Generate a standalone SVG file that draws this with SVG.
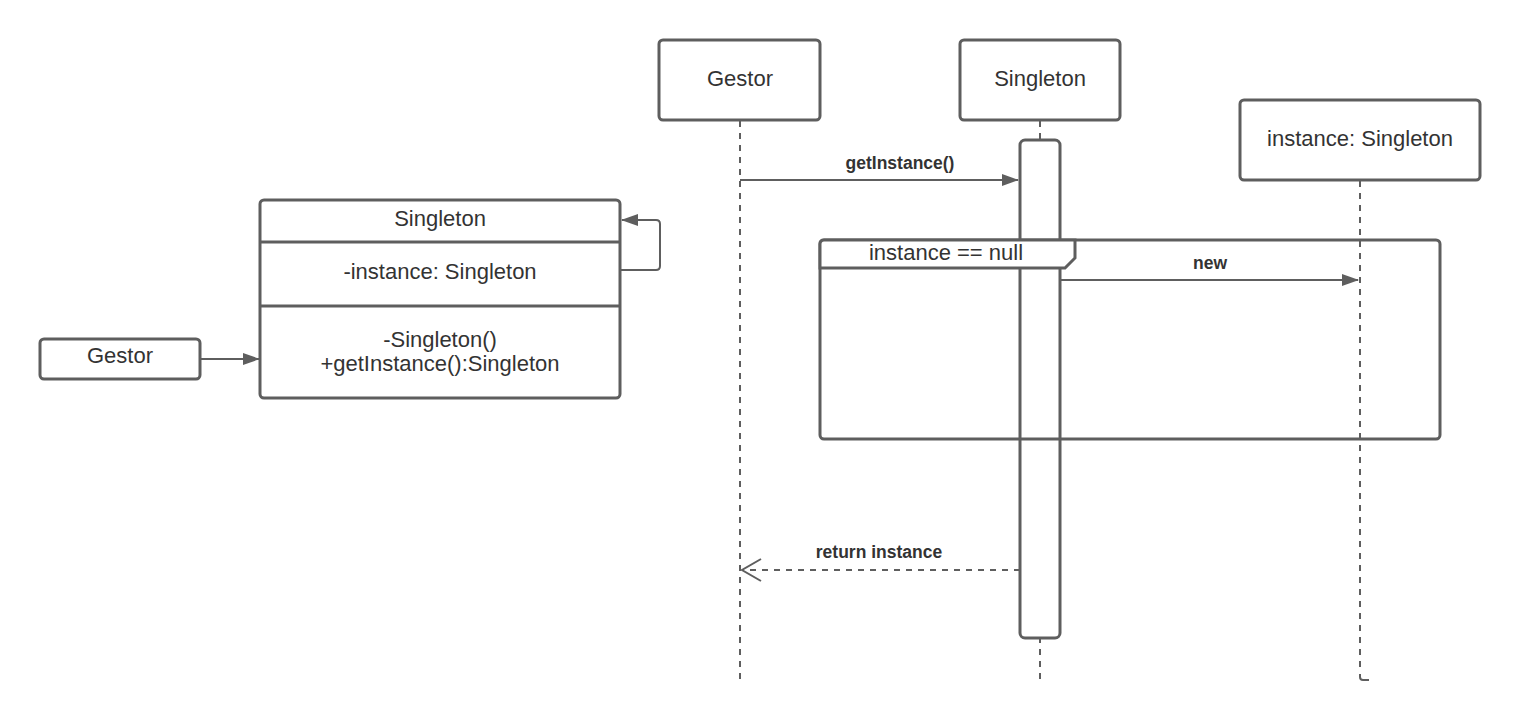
<svg xmlns="http://www.w3.org/2000/svg" width="1520" height="720" viewBox="0 0 1520 720">
<style>
.box{fill:#fff;stroke:#5e5e5e;stroke-width:3}
.ln{fill:none;stroke:#5e5e5e;stroke-width:2}
.dash{fill:none;stroke:#5e5e5e;stroke-width:2;stroke-dasharray:6 6}
.t{font-family:"Liberation Sans",Arial,sans-serif;font-size:22px;fill:#333;text-anchor:middle}
.b{font-family:"Liberation Sans",Arial,sans-serif;font-size:17.5px;font-weight:bold;fill:#333;text-anchor:middle}
</style>
<defs>
<marker id="fa" markerWidth="17" markerHeight="12" refX="16" refY="6" orient="auto" markerUnits="userSpaceOnUse"><path d="M0,0 L17,6 L0,12 Z" fill="#5e5e5e"/></marker>
<marker id="oa" markerWidth="22" markerHeight="24" refX="20" refY="12" orient="auto" markerUnits="userSpaceOnUse"><path d="M1,1 L20,12 L1,23" fill="none" stroke="#5e5e5e" stroke-width="2"/></marker>
</defs>
<rect width="1520" height="720" fill="#fff"/>
<g id="class-singleton">
<rect class="box" x="260" y="200" width="360" height="198" rx="4"/>
<line class="box" x1="260" y1="242" x2="620" y2="242"/>
<line class="box" x1="260" y1="306" x2="620" y2="306"/>
<text class="t" x="440" y="226">Singleton</text>
<text class="t" x="440" y="279">-instance: Singleton</text>
<text class="t" x="440" y="347">-Singleton()</text>
<text class="t" x="440" y="371">+getInstance():Singleton</text>
</g>
<g id="class-gestor">
<rect class="box" x="40" y="339" width="160" height="40" rx="4"/>
<text class="t" x="120" y="363">Gestor</text>
</g>
<g id="seq-gestor">
<rect class="box" x="659" y="40" width="161" height="80" rx="4"/>
<text class="t" x="740" y="86">Gestor</text>
</g>
<g id="seq-singleton">
<rect class="box" x="960" y="40" width="160" height="80" rx="4"/>
<text class="t" x="1040" y="86">Singleton</text>
</g>
<g id="seq-instance">
<rect class="box" x="1240" y="100" width="240" height="80" rx="4"/>
<text class="t" x="1360" y="146">instance: Singleton</text>
</g>
<g id="connectors">
<line class="dash" x1="740" y1="121" x2="740" y2="680"/>
<line class="dash" x1="1040" y1="121" x2="1040" y2="680"/>
<line class="dash" x1="1360" y1="181" x2="1360" y2="670"/>
<path class="ln" d="M1360,674 L1360,677 Q1360,680 1363,680 L1369,680"/>
<path class="ln" d="M620,270 L656,270 Q660,270 660,266 L660,224 Q660,220 656,220 L622,220" marker-end="url(#fa)"/>
<line class="ln" x1="200" y1="359" x2="259" y2="359" marker-end="url(#fa)"/>
<line class="ln" x1="740" y1="180" x2="1018" y2="180" marker-end="url(#fa)"/>
<line class="ln" x1="1060" y1="280" x2="1358" y2="280" marker-end="url(#fa)"/>
<line class="dash" x1="1020" y1="570" x2="742" y2="570" marker-end="url(#oa)"/>
<text class="b" x="900" y="169">getInstance()</text>
<text class="b" x="1210" y="269">new</text>
<text class="b" x="879" y="558">return instance</text>
</g>
<g id="activation">
<rect class="box" x="1020" y="140" width="40" height="498" rx="5"/>
</g>
<g id="frame">
<rect class="box" x="820" y="240" width="620" height="199" rx="4" style="fill:none"/>
<path class="box" d="M820,244 Q820,240 824,240 L1075,240 L1075,258 L1065,268 L820,268 Z"/>
<text class="t" x="946" y="260">instance == null</text>
</g>
</svg>
